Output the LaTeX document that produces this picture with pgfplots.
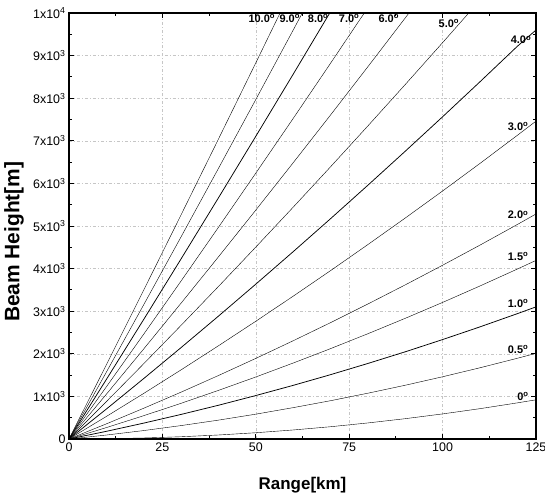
\documentclass[border=0pt]{standalone}
\usepackage{pgfplots}
\pgfplotsset{compat=1.18}
\usepackage{fontspec}
\setmainfont{Liberation Sans}

\begin{document}
\begin{tikzpicture}
\begin{axis}[
  width=467bp, height=426bp, scale only axis,
  xmin=0, xmax=125, ymin=0, ymax=10000,
  xtick={0,25,50,75,100,125},
  xticklabels={0,25,50,75,100,125},
  ytick={0,1000,2000,3000,4000,5000,6000,7000,8000,9000,10000},
  yticklabels={0,1x10\textsuperscript{3},2x10\textsuperscript{3},3x10\textsuperscript{3},4x10\textsuperscript{3},5x10\textsuperscript{3},6x10\textsuperscript{3},7x10\textsuperscript{3},8x10\textsuperscript{3},9x10\textsuperscript{3},1x10\textsuperscript{4}},
  scaled y ticks=false,
  minor x tick num=1, minor y tick num=1,
  tick align=inside,
  major tick length=5bp, minor tick length=3bp,
  axis line style={line width=1.3pt},
  every tick/.style={black, line width=0.9pt},
  grid=major,
  major grid style={gray!45, line width=0.5pt, dash pattern=on 3pt off 2pt on 1pt off 2pt},
  tick label style={font=\fontsize{12.5}{14}\selectfont},
  xlabel={Range[km]}, ylabel={Beam Height[m]},
  every axis x label/.style={at={(axis description cs:0.5,-0.108)}, anchor=center, font=\fontsize{17}{20}\selectfont\bfseries},
  every axis y label/.style={at={(axis description cs:-0.118,0.463)}, rotate=90, anchor=center, font=\fontsize{21}{24}\selectfont\bfseries},
  cycle list={{black, solid, line width=0.75pt, mark=none}},
]
% 0 deg
\addplot coordinates {(0,0)(10,6)(20,24)(30,53)(40,94)(50,147)(60,212)(70,288)(80,377)(90,477)(100,589)(110,712)(120,848)(125,920)};
% 0.5 deg
\addplot coordinates {(0,0)(10,93)(20,198)(30,315)(40,443)(50,583)(60,736)(70,899)(80,1075)(90,1262)(100,1461)(110,1672)(120,1895)(125,2011)};
% 1.0 deg
\addplot coordinates {(0,0)(10,180)(20,373)(30,577)(40,792)(50,1020)(60,1259)(70,1510)(80,1773)(90,2047)(100,2334)(110,2632)(120,2942)(125,3101)};
% 1.5 deg
\addplot coordinates {(0,0)(10,268)(20,547)(30,838)(40,1141)(50,1456)(60,1783)(70,2121)(80,2471)(90,2833)(100,3206)(110,3592)(120,3989)(125,4192)};
% 2.0 deg
\addplot coordinates {(0,0)(10,355)(20,722)(30,1100)(40,1490)(50,1892)(60,2306)(70,2731)(80,3169)(90,3618)(100,4079)(110,4551)(120,5035)(125,5282)};
% 3.0 deg
\addplot coordinates {(0,0)(10,529)(20,1070)(30,1623)(40,2188)(50,2764)(60,3352)(70,3952)(80,4564)(90,5187)(100,5822)(110,6469)(120,7128)(125,7462)};
% 4.0 deg
\addplot coordinates {(0,0)(10,703)(20,1419)(30,2146)(40,2884)(50,3635)(60,4397)(70,5171)(80,5957)(90,6755)(100,7564)(110,8385)(120,9218)(125,9600)};
% 5.0 deg
\addplot coordinates {(0,0)(10,877)(20,1767)(30,2668)(40,3580)(50,4505)(60,5441)(70,6389)(80,7349)(90,8321)(100,9304)(110,10299)};
% 6.0 deg
\addplot coordinates {(0,0)(10,1051)(20,2114)(30,3189)(40,4275)(50,5374)(60,6484)(70,7605)(80,8739)(90,9884)(100,11041)};
% 7.0 deg
\addplot coordinates {(0,0)(10,1225)(20,2461)(30,3709)(40,4969)(50,6241)(60,7524)(70,8819)(80,10126)};
% 8.0 deg
\addplot coordinates {(0,0)(10,1398)(20,2807)(30,4228)(40,5661)(50,7106)(60,8562)(70,10031)};
% 9.0 deg
\addplot coordinates {(0,0)(10,1570)(20,3152)(30,4746)(40,6352)(50,7969)(60,9598)(70,11239)};
% 10.0 deg
\addplot coordinates {(0,0)(10,1742)(20,3496)(30,5262)(40,7040)(50,8830)(60,10631)};

\begin{scope}[every node/.style={font=\fontsize{11}{12}\selectfont\bfseries, inner sep=0pt}]
\node at (axis cs:51.6,9860) {10.0\textsuperscript{o}};
\node at (axis cs:59.1,9880) {9.0\textsuperscript{o}};
\node at (axis cs:66.7,9880) {8.0\textsuperscript{o}};
\node at (axis cs:75.0,9880) {7.0\textsuperscript{o}};
\node at (axis cs:85.6,9880) {6.0\textsuperscript{o}};
\node at (axis cs:101.7,9760) {5.0\textsuperscript{o}};
\node at (axis cs:121.0,9366) {4.0\textsuperscript{o}};
\node at (axis cs:120.2,7331) {3.0\textsuperscript{o}};
\node at (axis cs:120.2,5258) {2.0\textsuperscript{o}};
\node at (axis cs:120.2,4280) {1.5\textsuperscript{o}};
\node at (axis cs:120.2,3185) {1.0\textsuperscript{o}};
\node at (axis cs:120.2,2105) {0.5\textsuperscript{o}};
\node at (axis cs:121.5,993) {0\textsuperscript{o}};
\end{scope}
\end{axis}
\pgfresetboundingbox
\path ([shift={(-69bp,-59bp)}]current axis.south west) rectangle ([shift={(9bp,13bp)}]current axis.north east);
\end{tikzpicture}
\end{document}
